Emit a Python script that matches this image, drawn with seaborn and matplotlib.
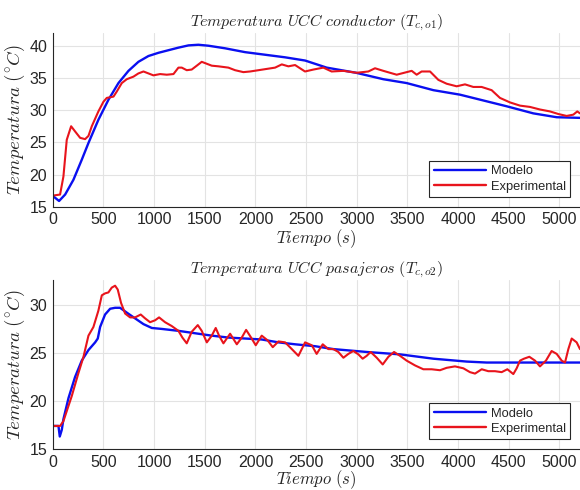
import numpy as np
import pandas as pd
import matplotlib
matplotlib.use("Agg")
import matplotlib.pyplot as plt
import seaborn as sns

# top panel: conductor
t1_mod = [7, 62, 122, 204, 286, 352, 450, 549, 648, 747, 845, 944, 1043, 1141, 1240, 1339, 1437,
          1536, 1700, 1898, 2095, 2292, 2490, 2703, 2993, 3262, 3493, 3756, 4019, 4249, 4479,
          4742, 4973, 5203]
y1_mod = [16.6, 15.9, 16.9, 19.2, 22.3, 24.9, 28.5, 31.6, 34.2, 36.1, 37.5, 38.4, 38.9, 39.3, 39.7,
          40.05, 40.15, 40.0, 39.6, 39.0, 38.6, 38.2, 37.7, 36.6, 35.8, 34.8, 34.2, 33.1, 32.4,
          31.5, 30.6, 29.5, 28.9, 28.8]
t1_exp = [7, 72, 105, 138, 181, 220, 270, 319, 352, 385, 450, 500, 533, 599, 632, 681, 730, 796,
          845, 895, 944, 993, 1059, 1125, 1191, 1240, 1273, 1322, 1371, 1421, 1470, 1503, 1569,
          1635, 1733, 1799, 1881, 1947, 2030, 2112, 2194, 2260, 2325, 2391, 2440, 2489, 2572,
          2670, 2752, 2868, 2999, 3114, 3180, 3262, 3394, 3542, 3591, 3640, 3723, 3805, 3887,
          3986, 4068, 4150, 4232, 4331, 4413, 4512, 4611, 4709, 4808, 4907, 4989, 5071, 5137,
          5176, 5203]
y1_exp = [16.75, 16.9, 19.7, 25.4, 27.5, 26.7, 25.7, 25.5, 26.0, 27.5, 29.8, 31.3, 31.9, 32.1,
          32.9, 34.2, 34.8, 35.2, 35.7, 36.0, 35.7, 35.4, 35.6, 35.5, 35.6, 36.6, 36.6, 36.2,
          36.3, 36.9, 37.5, 37.3, 36.9, 36.8, 36.6, 36.2, 35.9, 36.0, 36.2, 36.4, 36.6, 37.1,
          36.8, 37.0, 36.5, 36.0, 36.3, 36.6, 36.0, 36.1, 35.8, 36.0, 36.5, 36.1, 35.5, 36.1,
          35.5, 36.0, 36.0, 34.7, 34.1, 33.7, 34.0, 33.6, 33.6, 33.1, 31.9, 31.2, 30.7, 30.5,
          30.1, 29.8, 29.4, 29.1, 29.3, 29.8, 29.5]

# bottom panel: pasajeros
t2_mod = [7, 56, 69, 89, 105, 155, 220, 286, 352, 418, 444, 467, 516, 566, 615, 664, 730, 812,
          895, 977, 1075, 1240, 1404, 1569, 1733, 1898, 2062, 2227, 2391, 2589, 2769, 3098,
          3427, 3756, 4085, 4282, 4446, 5203]
y2_mod = [17.4, 17.4, 16.3, 17.0, 18.1, 20.3, 22.5, 24.2, 25.3, 26.1, 26.5, 27.7, 29.0, 29.6,
          29.7, 29.7, 29.2, 28.6, 28.0, 27.6, 27.5, 27.3, 27.05, 26.8, 26.6, 26.5, 26.4, 26.1,
          25.9, 25.7, 25.4, 25.1, 24.85, 24.4, 24.1, 24.0, 24.0, 24.0]
t2_exp = [7, 72, 105, 187, 253, 303, 352, 401, 450, 484, 516, 549, 582, 615, 641, 674, 714, 763,
          812, 868, 911, 960, 1010, 1049, 1108, 1174, 1240, 1279, 1322, 1371, 1431, 1470, 1520,
          1569, 1608, 1641, 1684, 1750, 1816, 1865, 1908, 1957, 2003, 2062, 2121, 2171, 2227,
          2293, 2359, 2424, 2490, 2556, 2604, 2664, 2720, 2769, 2818, 2868, 2917, 2966, 3016,
          3058, 3098, 3137, 3197, 3256, 3312, 3368, 3427, 3492, 3575, 3657, 3739, 3821, 3887,
          3969, 4052, 4117, 4167, 4233, 4298, 4364, 4430, 4486, 4545, 4578, 4611, 4650, 4703,
          4759, 4808, 4867, 4923, 4973, 5022, 5055, 5088, 5121, 5170, 5203]
y2_exp = [17.4, 17.4, 17.9, 20.5, 22.9, 24.6, 26.8, 27.7, 29.4, 31.0, 31.2, 31.3, 31.8, 32.0,
          31.6, 30.2, 29.1, 28.7, 28.7, 29.0, 28.6, 28.2, 28.4, 28.7, 28.2, 27.8, 27.3, 26.6,
          26.0, 27.2, 27.9, 27.3, 26.1, 26.8, 27.6, 26.8, 26.0, 27.0, 25.9, 26.6, 27.4, 26.6,
          25.8, 26.8, 26.3, 25.6, 26.2, 26.1, 25.4, 24.7, 26.1, 25.8, 24.9, 25.9, 25.4, 25.4,
          25.1, 24.5, 24.9, 25.2, 24.85, 24.4, 24.7, 25.1, 24.5, 23.8, 24.6, 25.1, 24.7, 24.2,
          23.7, 23.3, 23.3, 23.2, 23.45, 23.6, 23.4, 23.0, 22.85, 23.3, 23.1, 23.1, 23.0, 23.3,
          22.8, 23.4, 24.2, 24.4, 24.6, 24.2, 23.6, 24.2, 25.2, 24.9, 24.2, 24.0, 25.4, 26.5,
          26.1, 25.4]

titles = [r'$Temperatura\ UCC\ conductor\ (T_{c,o1})$',
          r'$Temperatura\ UCC\ pasajeros\ (T_{c,o2})$']
xticks = [0, 500, 1000, 1500, 2000, 2500, 3000, 3500, 4000, 4500, 5000]

sns.set_style("whitegrid")
plt.rcParams['font.family'] = ['Liberation Sans', 'DejaVu Sans']
plt.rcParams['mathtext.fontset'] = 'cm'

blue = '#0a0ff0'
red = '#e8141c'


def panel(ax, tm, ym, te, ye, ylim, yticks, title, xpad):
    df = pd.concat([
        pd.DataFrame({'t': tm, 'T': ym, 'serie': 'Modelo'}),
        pd.DataFrame({'t': te, 'T': ye, 'serie': 'Experimental'}),
    ])
    sns.lineplot(data=df, x='t', y='T', hue='serie', palette={'Modelo': blue, 'Experimental': red},
                 ax=ax, sort=False, estimator=None, legend=True)
    for ln, lw in zip(ax.get_lines(), [1.7, 1.5]):
        ln.set_linewidth(lw)
    ax.set_xlim(0, 5203)
    ax.set_ylim(*ylim)
    ax.set_xticks(xticks)
    ax.set_yticks(yticks)
    ax.grid(True, color='#e3e3e3', linewidth=0.8)
    ax.tick_params(direction='in', length=3, labelsize=11.5, colors='#262626', pad=4)
    for s in ['top', 'right']:
        ax.spines[s].set_visible(False)
    for s in ['left', 'bottom']:
        ax.spines[s].set_color('#262626')
        ax.spines[s].set_linewidth(0.8)
    ax.set_title(title, fontsize=11.5, pad=5)
    ax.set_xlabel(r'$Tiempo\ (s)$', fontsize=12, labelpad=xpad)
    ax.set_ylabel(r'$Temperatura\ (^{\circ}C)$', fontsize=13.5, labelpad=2)
    leg = ax.legend(loc='lower right', fontsize=9.3, frameon=True, fancybox=False,
                    handlelength=4.0, borderaxespad=0.75, labelspacing=0.25,
                    borderpad=0.35, handletextpad=0.4)
    leg.get_frame().set_edgecolor('#262626')
    leg.get_frame().set_linewidth(0.8)
    leg.get_frame().set_alpha(1)
    for h in leg.get_lines():
        h.set_linewidth(1.7)


fig = plt.figure(figsize=(5.8, 4.9), dpi=100)
ax1 = fig.add_axes([0.091, 0.578, 0.909, 0.355])
ax2 = fig.add_axes([0.091, 0.0837, 0.909, 0.345])

panel(ax1, t1_mod, y1_mod, t1_exp, y1_exp, (15, 42), [15, 20, 25, 30, 35, 40], titles[0], 0)
panel(ax2, t2_mod, y2_mod, t2_exp, y2_exp, (15, 32.6), [15, 20, 25, 30], titles[1], -1)

fig.savefig('out.png', dpi=100)
